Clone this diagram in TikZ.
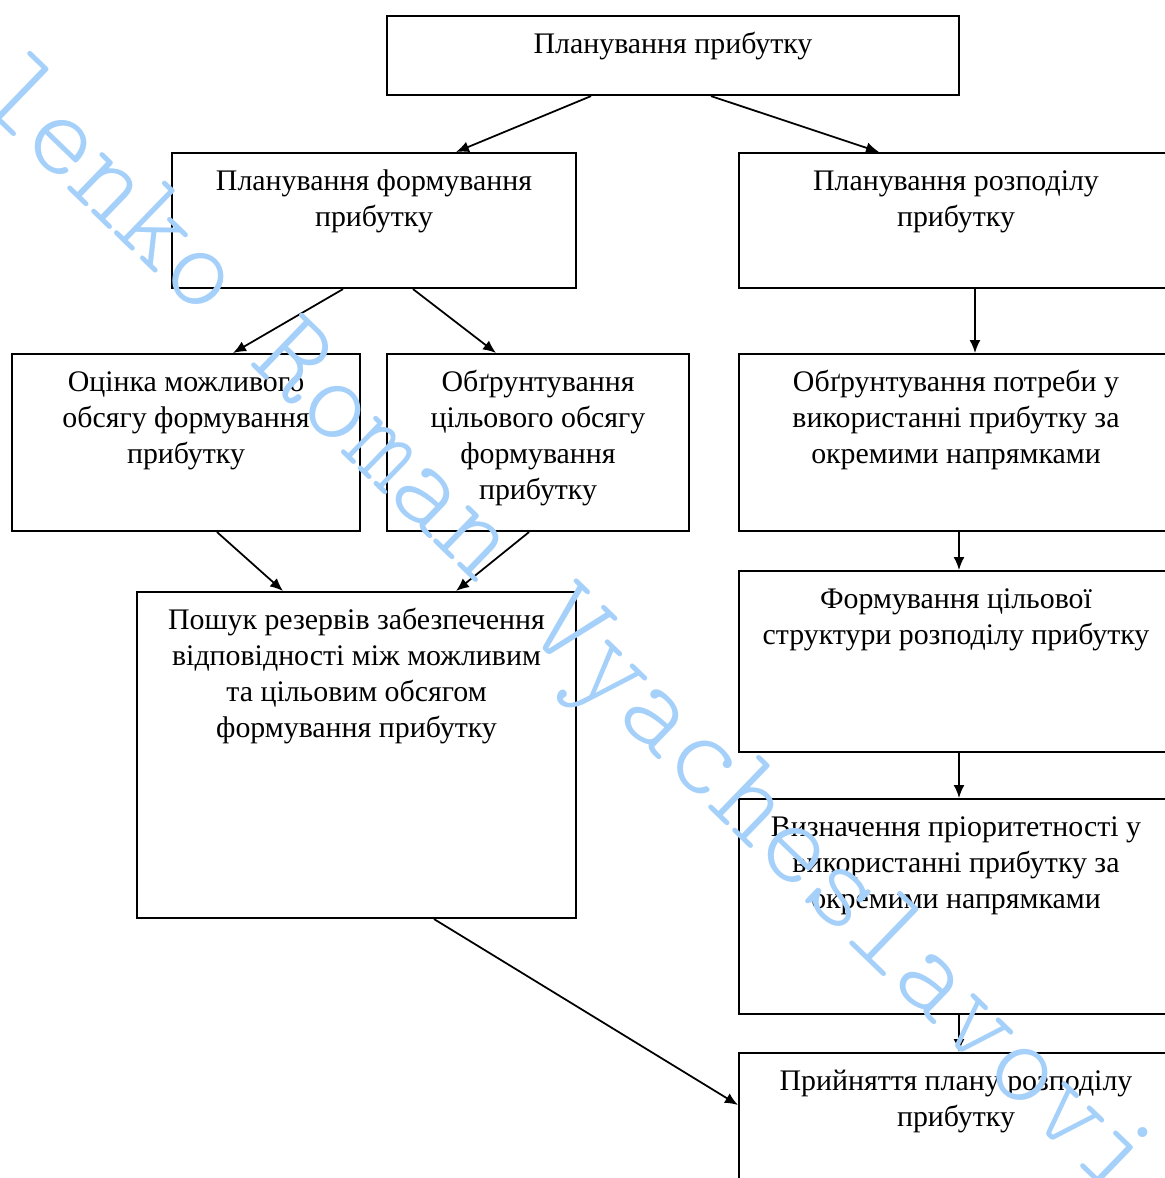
\documentclass[tikz,border=0pt]{standalone}
\usepackage{fontspec}
\setmainfont{Liberation Serif}
\newfontfamily\wmfont{lmmonolt10-regular.otf}
\usepackage{xcolor}
\definecolor{WmBlue}{RGB}{165,208,250}
\usetikzlibrary{arrows.meta}

\tikzset{
  box/.style n args={2}{draw, line width=1.2pt, anchor=north west, inner sep=0pt,
    font=\fontsize{17}{20.5}\selectfont,
    execute at begin node={\begin{minipage}[t][#2][t]{#1}\centering\vspace*{0.25cm}\strut},
    execute at end node={\strut\end{minipage}}},
  wm/.style={font=\wmfont\fontsize{69}{69}\selectfont, text=WmBlue, rotate=-44, inner sep=0pt},
}

\begin{document}
\begin{tikzpicture}[x=0.02cm, y=-0.02cm, line width=1pt, >={Latex[length=2.6mm,width=2.2mm]}]
  \useasboundingbox (0,0) rectangle (1165,1178);
  \clip (0,0) rectangle (1165,1178);

  \node[box={11.44cm}{1.58cm}] (1) at (386,15) {Планування прибутку};
  \node[box={8.08cm}{2.70cm}] (2) at (171,152) {Планування формування\\прибутку};
  \node[box={8.68cm}{2.70cm}] (3) at (738,152) {Планування розподілу\\прибутку};
  \node[box={6.96cm}{3.54cm}] (4) at (11,353) {Оцінка можливого\\обсягу формування\\прибутку};
  \node[box={6.04cm}{3.54cm}] (5) at (386,353) {Обґрунтування\\цільового обсягу\\формування\\прибутку};
  \node[box={8.68cm}{3.54cm}] (6) at (738,353) {Обґрунтування потреби у\\використанні прибутку за\\окремими напрямками};
  \node[box={8.78cm}{6.52cm}] (7) at (136,591) {Пошук резервів забезпечення\\відповідності між можливим\\та цільовим обсягом\\формування прибутку};
  \node[box={8.68cm}{3.62cm}] (8) at (738,570) {Формування цільової\\структури розподілу прибутку};
  \node[box={8.68cm}{4.30cm}] (9) at (738,798) {Визначення пріоритетності у\\використанні прибутку за\\окремими напрямками};
  \node[box={8.68cm}{4.00cm}] (10) at (738,1052) {Прийняття плану розподілу\\прибутку};

  \draw[->] ([xshift=-1.64cm]1.south) -- ([xshift=1.64cm]2.north);
  \draw[->] ([xshift=0.76cm]1.south) -- ([xshift=-1.54cm]3.north);
  \draw[->] ([xshift=-0.62cm]2.south) -- ([xshift=0.94cm]4.north);
  \draw[->] ([xshift=0.78cm]2.south) -- ([xshift=-0.84cm]5.north);
  \draw[->] ([xshift=0.38cm]3.south) -- ([xshift=0.38cm]6.north);
  \draw[->] ([xshift=0.62cm]4.south) -- ([xshift=-1.47cm]7.north);
  \draw[->] ([xshift=-0.18cm]5.south) -- ([xshift=1.99cm]7.north);
  \draw[->] ([xshift=0.06cm]6.south) -- ([xshift=0.06cm]8.north);
  \draw[->] ([xshift=0.06cm]8.south) -- ([xshift=0.06cm]9.north);
  \draw[->] ([xshift=0.06cm]9.south) -- ([xshift=0.06cm]10.north);
  \draw[->] ([xshift=1.55cm]7.south) -- ([yshift=-1.06cm]10.north west);

  % watermark
  \node[wm] (wm) at (562,635) {lenko Roman Vyacheslavovi};
\end{tikzpicture}
\end{document}
